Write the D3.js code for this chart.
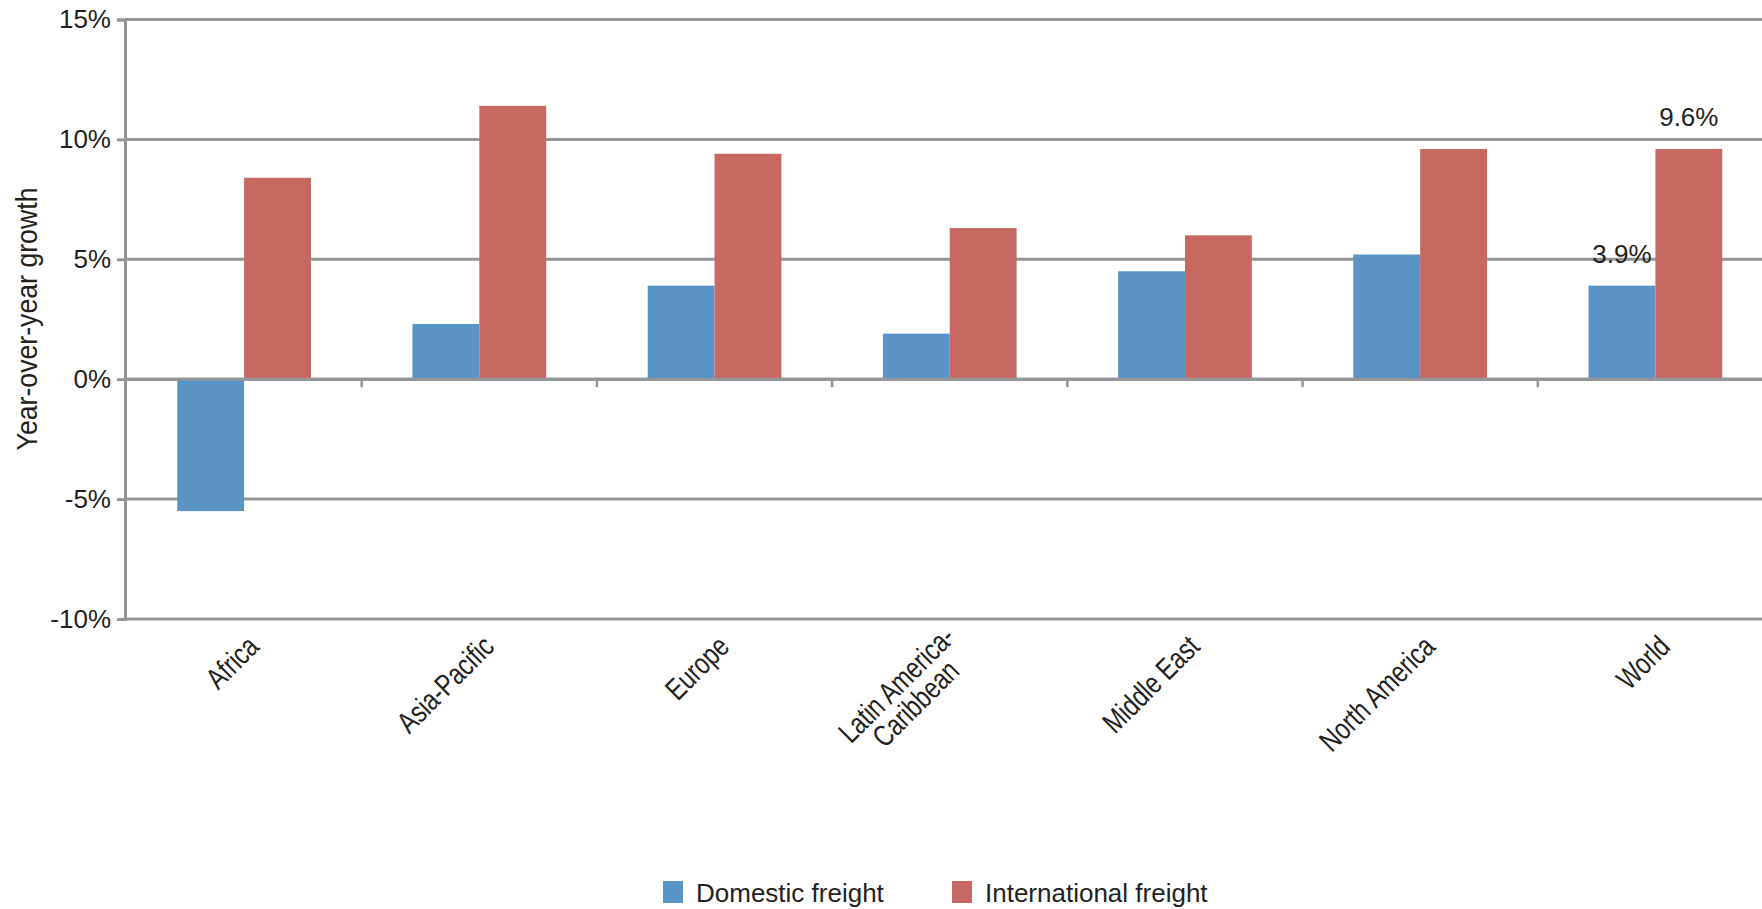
<!DOCTYPE html>
<html>
<head>
<meta charset="utf-8">
<script src="https://cdn.jsdelivr.net/npm/d3@7/dist/d3.min.js"></script>
<style>
  html, body { margin: 0; padding: 0; background: #fff; }
  svg { display: block; }
  text { font-family: "Liberation Sans", Arial, sans-serif; fill: #231f20; }
</style>
</head>
<body>
<svg id="chart" width="1762" height="909"></svg>
<script>
// ---- data ----
const categories = ["Africa", "Asia-Pacific", "Europe", "Latin America-\nCaribbean", "Middle East", "North America", "World"];
const seriesNames = ["Domestic freight", "International freight"];
const domestic = [-5.5, 2.3, 3.9, 1.9, 4.5, 5.2, 3.9];
const international = [8.4, 11.4, 9.4, 6.3, 6.0, 9.6, 9.6];
const yTicks = [-10, -5, 0, 5, 10, 15];
const yTickLabels = ["-10%", "-5%", "0%", "5%", "10%", "15%"];
const yTitle = "Year-over-year growth";
const labelledCategory = "World";
const colors = ["#5a94c7", "#c86862"];

// ---- layout ----
const svg = d3.select("#chart");
const W = 1762;
const axisX = 125;
const y = d3.scaleLinear().domain([-10, 15]).range([619, 19.5]);
const x = d3.scaleBand().domain(categories).range([126.5, 1773]).paddingInner(0).paddingOuter(0);
const xs = d3.scaleBand().domain(seriesNames).range([50.75, x.bandwidth() - 50.75]).padding(0);
const gridColor = "#939598";

const rows = categories.map((c, i) => ({ cat: c, values: [domestic[i], international[i]] }));

// gridlines
svg.append("g").selectAll("line").data(yTicks).join("line")
  .attr("x1", axisX).attr("x2", W)
  .attr("y1", d => y(d)).attr("y2", d => y(d))
  .attr("stroke", gridColor).attr("stroke-width", 3);

// bars
const groups = svg.append("g").selectAll("g").data(rows).join("g")
  .attr("transform", d => `translate(${x(d.cat)},0)`);
groups.selectAll("rect").data(d => d.values.map((v, k) => ({ v, k, s: seriesNames[k] }))).join("rect")
  .attr("x", d => xs(d.s))
  .attr("width", xs.bandwidth())
  .attr("y", d => y(Math.max(0, d.v)))
  .attr("height", d => Math.abs(y(d.v) - y(0)))
  .attr("fill", d => colors[d.k]);

// zero line over bars
svg.append("line").attr("x1", axisX).attr("x2", W).attr("y1", y(0)).attr("y2", y(0))
  .attr("stroke", gridColor).attr("stroke-width", 3);

// category separator ticks on zero line
svg.append("g").selectAll("line").data(categories.slice(1)).join("line")
  .attr("x1", d => x(d)).attr("x2", d => x(d))
  .attr("y1", y(0)).attr("y2", y(0) + 8)
  .attr("stroke", gridColor).attr("stroke-width", 2.5);

// y axis
const yAxis = d3.axisLeft(y).tickValues(yTicks).tickSize(8).tickPadding(6)
  .tickFormat((d, i) => yTickLabels[i]);
const ga = svg.append("g").attr("transform", `translate(${axisX},0)`).call(yAxis);
ga.select(".domain").attr("stroke", gridColor).attr("stroke-width", 3);
ga.selectAll(".tick line").attr("stroke", gridColor).attr("stroke-width", 3);
ga.selectAll(".tick text").attr("font-size", 26).attr("fill", "#231f20")
  .style("font-family", '"Liberation Sans", Arial, sans-serif');

// y title
svg.append("text")
  .attr("transform", `translate(27,319) rotate(-90) scale(0.92,1)`)
  .attr("text-anchor", "middle").attr("dominant-baseline", "central")
  .attr("font-size", 29).text(yTitle);

// x labels
const lh = 27;
const sx = 0.78;
const xl = svg.append("g").selectAll("text").data(categories).join("text")
  .attr("transform", d => `translate(${x(d) + x.bandwidth() / 2 + 9},641) rotate(-45) scale(${sx},1)`)
  .attr("font-size", 30);
xl.each(function (d) {
  const t = d3.select(this);
  const lines = d.split("\n");
  const tspans = lines.map((ln) => t.append("tspan").text(ln));
  const widths = tspans.map(s => s.node().getComputedTextLength());
  const mw = d3.max(widths);
  tspans.forEach((s, i) => {
    s.attr("x", -mw / 2).attr("text-anchor", "middle")
     .attr("y", (i - (lines.length - 1) / 2) * lh).attr("dy", "0.35em");
  });
});

// data labels (World)
const wi = categories.indexOf(labelledCategory);
[domestic[wi], international[wi]].forEach((v, k) => {
  svg.append("text")
    .attr("x", x(labelledCategory) + xs(seriesNames[k]) + xs.bandwidth() / 2)
    .attr("y", y(v) - 23)
    .attr("text-anchor", "middle").attr("font-size", 26)
    .text(v.toFixed(1) + "%");
});

// legend
const legend = svg.append("g").selectAll("g").data(seriesNames).join("g")
  .attr("transform", (d, i) => `translate(${[663, 952][i]},0)`);
legend.append("rect").attr("x", 0).attr("y", 881).attr("width", 20).attr("height", 22)
  .attr("fill", (d, i) => colors[i]);
legend.append("text").attr("x", 33).attr("y", 902).attr("font-size", 26).text(d => d);
</script>
</body>
</html>
